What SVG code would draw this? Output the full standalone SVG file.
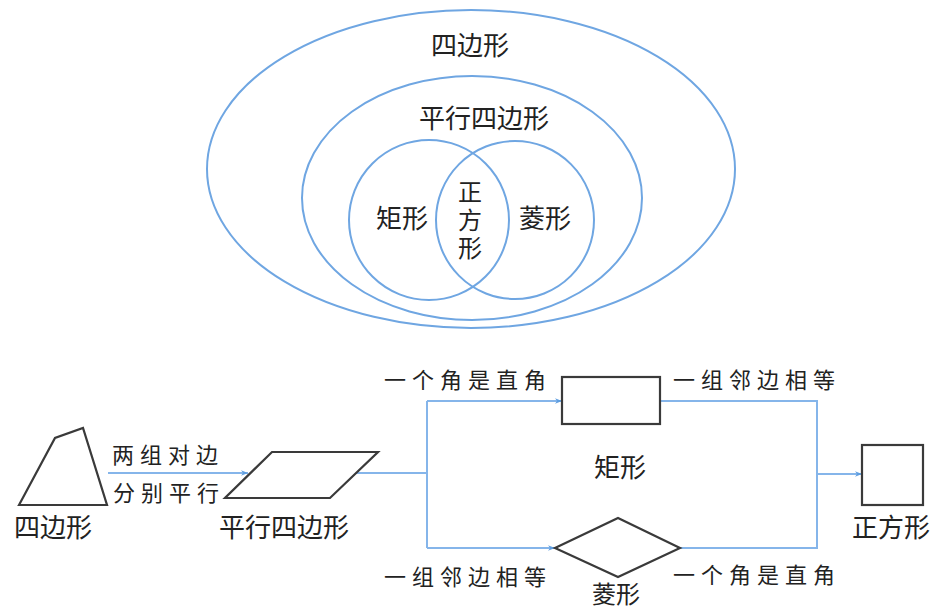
<svg xmlns="http://www.w3.org/2000/svg" width="933" height="611" viewBox="0 0 933 611">
<style>
.set{fill:none;stroke:#6fa6e2;stroke-width:2}
.shape{fill:#fff;stroke:#3a3a3a;stroke-width:2.2}
.ln{fill:none;stroke:#85b5ea;stroke-width:2}
text{font-family:"Noto Sans CJK SC","Noto Sans CJK JP",sans-serif;fill:#222;text-anchor:middle}
.big{font-size:26px}
.vert{font-size:24px;writing-mode:vertical-rl;letter-spacing:4px}
.lab{font-size:22px;letter-spacing:6px}
</style>
<defs>
<marker id="arr" viewBox="0 0 10 10" refX="10" refY="5" markerWidth="7" markerHeight="7" markerUnits="userSpaceOnUse" orient="auto">
<path d="M0,1 L10,5 L0,9 L3,5 Z" fill="#5f9ee0"/>
</marker>
</defs>
<rect width="933" height="611" fill="#fff"/>
<g id="venn">
<g id="set-quadrilateral"><ellipse class="set" cx="471" cy="169" rx="264" ry="159"/><text class="big" x="470" y="55">四边形</text></g>
<g id="set-parallelogram"><ellipse class="set" cx="472" cy="198" rx="170" ry="122"/><text class="big" x="484" y="128">平行四边形</text></g>
<g id="set-rectangle"><circle class="set" cx="429" cy="220" r="80"/><text class="big" x="402" y="228">矩形</text></g>
<g id="set-rhombus"><circle class="set" cx="515" cy="220" r="79"/><text class="big" x="545" y="228">菱形</text></g>
<g id="set-square"><text class="vert" x="470" y="222">正方形</text></g>
</g>
<g id="connectors">
<line class="ln" x1="108" y1="473" x2="248" y2="473" marker-end="url(#arr)"/>
<polyline class="ln" points="356,473 427,473"/>
<line class="ln" x1="427" y1="401" x2="427" y2="548"/>
<line class="ln" x1="427" y1="401" x2="562" y2="401" marker-end="url(#arr)"/>
<line class="ln" x1="427" y1="548" x2="555" y2="548" marker-end="url(#arr)"/>
<polyline class="ln" points="661,401 817,401 817,548 680,548"/>
<line class="ln" x1="817" y1="474" x2="862" y2="474" marker-end="url(#arr)"/>
<text class="lab" x="168" y="463">两组对边</text>
<text class="lab" x="169" y="501">分别平行</text>
<text class="lab" x="468" y="388">一个角是直角</text>
<text class="lab" x="757" y="388">一组邻边相等</text>
<text class="lab" x="468" y="585">一组邻边相等</text>
<text class="lab" x="757" y="583">一个角是直角</text>
</g>
<g id="node-quadrilateral"><polygon class="shape" points="19,505 55,438 83,428 107,505"/><text class="big" x="53" y="537">四边形</text></g>
<g id="node-parallelogram"><polygon class="shape" points="272,452 378,452 330,498 225,498"/><text class="big" x="284" y="537">平行四边形</text></g>
<g id="node-rectangle"><rect class="shape" x="562" y="377" width="98" height="47"/><text class="big" x="620" y="477">矩形</text></g>
<g id="node-rhombus"><polygon class="shape" points="555,548 618,518 680,548 618,577"/><text class="big" x="616" y="603" style="font-size:24px">菱形</text></g>
<g id="node-square"><rect class="shape" x="862" y="445" width="61" height="60"/><text class="big" x="891" y="537">正方形</text></g>
</svg>
